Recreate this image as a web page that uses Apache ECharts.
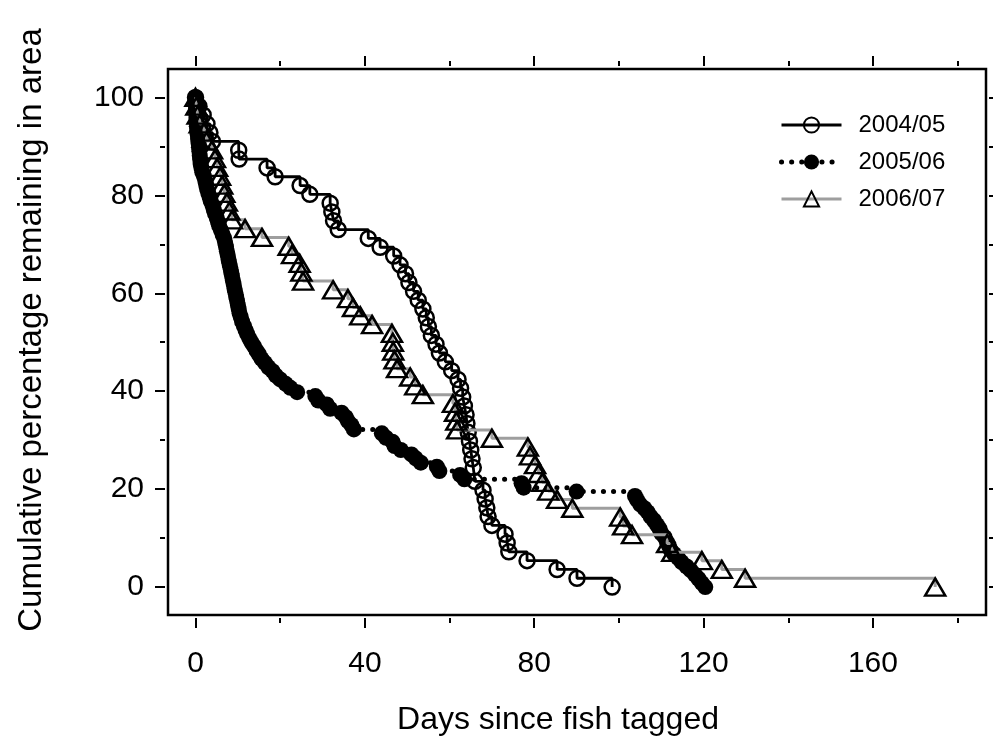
<!DOCTYPE html>
<html>
<head>
<meta charset="utf-8">
<script src="https://cdn.jsdelivr.net/npm/echarts@6/dist/echarts.min.js"></script>
<style>
  html, body { margin: 0; padding: 0; background: #fff; }
  #chart { width: 993px; height: 747px; }
</style>
</head>
<body>
<div id="chart"></div>
<script>
// axis ranges and ticks
const xMin = -6.5, xMax = 186.7;
const yMin = -5.7, yMax = 105.8;
const xMajor = [0, 40, 80, 120, 160];
const xMinor = [20, 60, 100, 140, 180];
const yMajor = [0, 20, 40, 60, 80, 100];
const yMinor = [10, 30, 50, 70, 90];

const seriesNames = ['2004/05', '2005/06', '2006/07'];

// [days since tagged, cumulative % remaining]
const s2004 = [
  [0, 100], [0.8, 98.2], [1.8, 96.4], [2.7, 94.6], [3.4, 92.8], [4, 91.0],
  [10.2, 89.2], [10.3, 87.4], [16.9, 85.6], [18.8, 83.8], [24.7, 82.0], [27, 80.2],
  [31.8, 78.4], [32.2, 76.6], [32.6, 74.8], [33.7, 73.0], [40.8, 71.2], [43.6, 69.4],
  [46.8, 67.6], [48.3, 65.8], [49.6, 64.0], [50.4, 62.2], [51.5, 60.4], [52.6, 58.6],
  [53.7, 56.8], [54.5, 55.0], [55.0, 53.2], [55.7, 51.4], [56.8, 49.6], [57.6, 47.8],
  [59.0, 46.0], [60.5, 44.2], [62.0, 42.4], [62.6, 40.6], [63.1, 38.8], [63.5, 37.0],
  [63.9, 35.2], [64.1, 33.4], [64.4, 31.6], [64.7, 29.8], [65.0, 28.0], [65.3, 26.2],
  [65.6, 24.4], [66.0, 21.6], [67.9, 19.8], [68.4, 18.0], [68.8, 16.2], [69.1, 14.4],
  [70.0, 12.6], [73.1, 10.8], [73.6, 9.0], [74.0, 7.2], [78.3, 5.4], [85.4, 3.6],
  [90.1, 1.8], [98.4, 0]
];

const s2005 = [
  [0, 100], [0, 99.2], [0.1, 98.3], [0.1, 97.5], [0.2, 96.6], [0.2, 95.8], [0.3, 94.9],
  [0.3, 94.1], [0.4, 93.2], [0.5, 92.4], [0.6, 91.5], [0.7, 90.7], [0.8, 89.8], [0.9, 89.0],
  [1.0, 88.1], [1.1, 87.3], [1.2, 86.4], [1.4, 85.6], [1.6, 84.7], [2.0, 83.9], [2.3, 83.0],
  [2.5, 82.2], [2.7, 81.4], [3.0, 80.5], [3.3, 79.7], [3.6, 78.8], [4.0, 78.0], [4.3, 77.1],
  [4.6, 76.3], [5.0, 75.4], [5.3, 74.6], [5.6, 73.7], [6.0, 72.9], [6.4, 72.0], [6.8, 71.2],
  [7.0, 70.3], [7.2, 69.5], [7.4, 68.6], [7.6, 67.8], [7.8, 66.9], [8.0, 66.1], [8.2, 65.3],
  [8.4, 64.4], [8.6, 63.6], [8.8, 62.7], [9.0, 61.9], [9.2, 61.0], [9.4, 60.2], [9.6, 59.3],
  [9.8, 58.5], [10.0, 57.6], [10.2, 56.8], [10.4, 55.9], [10.7, 55.1], [11.0, 54.2],
  [11.4, 53.4], [11.8, 52.5], [12.2, 51.7], [12.7, 50.8], [13.2, 50.0], [13.8, 49.2],
  [14.4, 48.3], [15.0, 47.5], [15.6, 46.6], [16.4, 45.8], [17.2, 44.9], [18.2, 44.1],
  [19.0, 43.2], [20.0, 42.4], [21.3, 41.5], [22.4, 40.7], [24.0, 39.8], [28.3, 39.0],
  [29.0, 38.1], [31.0, 37.3], [31.8, 36.4], [34.5, 35.6], [35.5, 34.7], [36.0, 33.9],
  [36.8, 33.1], [37.4, 32.2], [44.0, 31.4], [45.0, 30.5], [46.5, 29.7], [47.0, 28.8],
  [48.5, 28.0], [51.0, 27.1], [52.0, 26.3], [53.2, 25.4], [57.0, 24.6], [57.6, 23.7],
  [62.5, 22.9], [63.5, 22.0], [77.0, 21.2], [77.5, 20.3], [90.0, 19.5], [103.8, 18.6],
  [104.3, 17.8], [105.0, 16.9], [106.0, 16.1], [106.8, 15.3], [107.5, 14.4], [108.3, 13.6],
  [109.0, 12.7], [109.6, 11.9], [110.0, 11.0], [110.8, 10.2], [111.3, 9.3], [111.8, 8.5],
  [112.2, 7.6], [113.0, 6.8], [114.0, 5.9], [114.8, 5.1], [116.0, 4.2], [117.0, 3.4],
  [118.0, 2.5], [118.8, 1.7], [119.6, 0.8], [120.4, 0]
];

const s2006 = [
  [0, 100], [0.2, 98.2], [0.5, 96.4], [1.0, 94.6], [2.0, 92.9], [2.6, 91.1], [3.9, 89.3],
  [4.6, 87.5], [5.1, 85.7], [5.8, 83.9], [6.3, 82.1], [6.8, 80.4], [7.4, 78.6], [8.0, 76.8],
  [8.6, 75.0], [11.7, 73.2], [15.7, 71.4], [22.0, 69.6], [22.8, 67.9], [24.6, 66.1],
  [25.0, 64.3], [25.4, 62.5], [32.5, 60.7], [36.0, 58.9], [37.2, 57.1], [38.9, 55.4],
  [41.7, 53.6], [46.4, 51.8], [46.6, 50.0], [46.7, 48.2], [47.0, 46.4], [47.6, 44.6],
  [50.7, 42.9], [51.9, 41.1], [53.7, 39.3], [60.8, 37.5], [61.3, 35.7], [61.6, 33.9],
  [61.8, 32.1], [70.0, 30.4], [78.5, 28.6], [79.0, 26.8], [80.2, 25.0], [81.0, 23.2],
  [81.9, 21.4], [83.3, 19.6], [85.4, 17.9], [89.0, 16.1], [100.3, 14.3], [101.0, 12.5],
  [103.1, 10.7], [111.4, 8.9], [112.6, 7.1], [119.6, 5.4], [124.3, 3.6], [129.8, 1.8],
  [174.7, 0]
];

const FONT = '"Liberation Sans", Arial, sans-serif';

const line2004 = { color: '#000', width: 2.8 };
const line2005 = { color: '#000', width: 5, type: [0.1, 10], cap: 'round' };
const line2006 = { color: '#9e9e9e', width: 3 };

// one axis = one set of tick marks (major or minor), placed just outside the frame
function tickAxis(pos, values, len, withLabels, isX) {
  return {
    type: 'value',
    position: pos,
    min: isX ? xMin : yMin,
    max: isX ? xMax : yMax,
    offset: 3,
    axisLine: { show: false, onZero: false },
    splitLine: { show: false },
    axisTick: {
      show: true,
      inside: false,
      length: len,
      customValues: values,
      lineStyle: { color: '#000', width: 2 }
    },
    axisLabel: withLabels
      ? { show: true, customValues: values, fontSize: 30, fontFamily: FONT, color: '#000', margin: isX ? 31 : 21 }
      : { show: false }
  };
}

const chart = echarts.init(document.getElementById('chart'));

const xBottom = tickAxis('bottom', xMajor, 10, true, true);
xBottom.name = 'Days since fish tagged';
xBottom.nameLocation = 'middle';
xBottom.nameGap = 86;
xBottom.nameTextStyle = { fontSize: 32, fontFamily: FONT, color: '#000', padding: [0, 38, 0, 0] };

const yLeft = tickAxis('left', yMajor, 10, true, false);
yLeft.name = 'Cumulative percentage remaining in area';
yLeft.nameLocation = 'middle';
yLeft.nameGap = 117;
yLeft.nameTextStyle = { fontSize: 33, fontFamily: FONT, color: '#000', padding: [0, 0, 0, 24] };

const option = {
  animation: false,
  backgroundColor: '#fff',
  grid: {
    left: 168, right: 7, top: 69, bottom: 132,
    show: true,
    borderColor: '#000',
    borderWidth: 2.5,
    backgroundColor: 'transparent'
  },
  legend: {
    orient: 'vertical',
    left: 774,
    top: 108,
    itemWidth: 60,
    itemHeight: 19,
    itemGap: 13,
    textStyle: { fontSize: 24, fontFamily: FONT, color: '#000', padding: [0, 0, 0, 12] },
    data: [
      { name: seriesNames[0], lineStyle: line2004 },
      { name: seriesNames[1], lineStyle: line2005 },
      { name: seriesNames[2], lineStyle: line2006 }
    ]
  },
  xAxis: [
    xBottom,
    tickAxis('bottom', xMinor, 5, false, true),
    tickAxis('top', xMajor, 10, false, true),
    tickAxis('top', xMinor, 5, false, true)
  ],
  yAxis: [
    yLeft,
    tickAxis('left', yMinor, 5, false, false),
    tickAxis('right', yMajor, 10, false, false),
    tickAxis('right', yMinor, 5, false, false)
  ],
  series: [
    {
      name: seriesNames[0],
      type: 'line',
      step: 'end',
      data: s2004,
      showAllSymbol: true,
      symbol: 'circle',
      symbolSize: 15,
      itemStyle: { color: 'rgba(255,255,255,0)', borderColor: '#000', borderWidth: 2.5 },
      lineStyle: line2004,
      z: 3
    },
    {
      name: seriesNames[1],
      type: 'line',
      step: 'end',
      data: s2005,
      showAllSymbol: true,
      symbol: 'circle',
      symbolSize: 16,
      itemStyle: { color: '#000', borderColor: '#000', borderWidth: 0 },
      lineStyle: line2005,
      z: 2
    },
    {
      name: seriesNames[2],
      type: 'line',
      step: 'end',
      data: s2006,
      showAllSymbol: true,
      symbol: 'triangle',
      symbolSize: [20, 17],
      itemStyle: { color: 'rgba(255,255,255,0)', borderColor: '#000', borderWidth: 2.5 },
      lineStyle: line2006,
      z: 4
    }
  ]
};

chart.setOption(option);
</script>
</body>
</html>
